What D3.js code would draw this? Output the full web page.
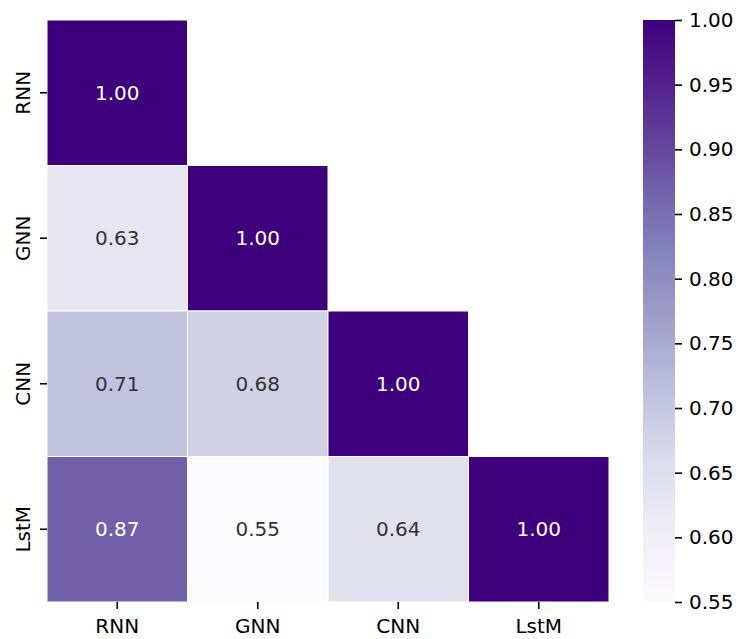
<!DOCTYPE html>
<html>
<head>
<meta charset="utf-8">
<script src="https://cdn.jsdelivr.net/npm/d3@7"></script>
<style>
body { margin: 0; background: #fff; }
text { font-family: "DejaVu Sans", sans-serif; }
</style>
</head>
<body>
<svg id="chart" width="744" height="639"></svg>
<script>
// data
var models = ["RNN", "GNN", "CNN", "LstM"];
var corr = [
  [1.00, null, null, null],
  [0.63, 1.00, null, null],
  [0.71, 0.68, 1.00, null],
  [0.87, 0.55, 0.64, 1.00]
];
var cbarTicks = [0.55, 0.60, 0.65, 0.70, 0.75, 0.80, 0.85, 0.90, 0.95, 1.00];
var vmin = 0.55, vmax = 1.00;

// matplotlib Purples
var purples = ["#fcfbfd", "#efedf5", "#dadaeb", "#bcbddc", "#9e9ac8", "#807dba", "#6a51a3", "#54278f", "#3f007d"];
var color = d3.scaleLinear()
  .domain(d3.range(purples.length).map(function(i) { return vmin + (vmax - vmin) * i / (purples.length - 1); }))
  .range(purples).clamp(true);

var svg = d3.select("#chart");
var mLeft = 47, mTop = 20, mRight = 609, mBottom = 602;

var x = d3.scaleBand().domain(models).range([mLeft, mRight]);
var y = d3.scaleBand().domain(models).range([mTop, mBottom]);

var cells = [];
corr.forEach(function(row, i) {
  row.forEach(function(v, j) {
    if (v !== null) cells.push({r: models[i], c: models[j], v: v});
  });
});

svg.selectAll("rect.cell").data(cells).enter().append("rect")
  .attr("class", "cell")
  .attr("x", function(d) { return x(d.c); })
  .attr("y", function(d) { return y(d.r); })
  .attr("width", x.bandwidth())
  .attr("height", y.bandwidth())
  .attr("fill", function(d) { return color(d.v); })
  .attr("stroke", "#fff").attr("stroke-width", 1);

function lum(c) {
  var rgb = d3.rgb(c);
  var f = function(u) { u /= 255; return u <= 0.03928 ? u / 12.92 : Math.pow((u + 0.055) / 1.055, 2.4); };
  return 0.2126 * f(rgb.r) + 0.7152 * f(rgb.g) + 0.0722 * f(rgb.b);
}

svg.selectAll("text.val").data(cells).enter().append("text")
  .attr("class", "val")
  .attr("x", function(d) { return x(d.c) + x.bandwidth() / 2; })
  .attr("y", function(d) { return y(d.r) + y.bandwidth() / 2; })
  .attr("text-anchor", "middle").attr("dy", "0.36em")
  .attr("font-size", 20)
  .attr("fill", function(d) { return lum(color(d.v)) > 0.408 ? "#333333" : "#ffffff"; })
  .text(function(d) { return d.v.toFixed(2); });

// axes
var xAxis = svg.append("g").attr("transform", "translate(0," + mBottom + ")")
  .call(d3.axisBottom(x).tickSize(7).tickPadding(7));
var yAxis = svg.append("g").attr("transform", "translate(" + mLeft + ",0)")
  .call(d3.axisLeft(y).tickSize(7).tickPadding(7));
[xAxis, yAxis].forEach(function(g) {
  g.select(".domain").remove();
  g.selectAll(".tick line").attr("stroke", "#000").attr("stroke-width", 1.6);
  g.selectAll(".tick text").attr("font-size", 20).attr("fill", "#000")
    .style("font-family", "DejaVu Sans, sans-serif");
});
xAxis.selectAll(".tick text").attr("dy", "0.85em");
yAxis.selectAll(".tick text")
  .attr("transform", "rotate(-90)")
  .attr("text-anchor", "middle")
  .attr("x", 0).attr("y", -17).attr("dy", "0");

// colorbar
var cbX = 643, cbW = 32;
var defs = svg.append("defs");
var grad = defs.append("linearGradient").attr("id", "cbgrad")
  .attr("x1", 0).attr("y1", 1).attr("x2", 0).attr("y2", 0);
d3.range(0, 1.0001, 0.05).forEach(function(t) {
  grad.append("stop").attr("offset", t).attr("stop-color", color(vmin + t * (vmax - vmin)));
});
svg.append("rect").attr("x", cbX).attr("y", mTop).attr("width", cbW).attr("height", mBottom - mTop)
  .attr("fill", "url(#cbgrad)");

var cy = d3.scaleLinear().domain([vmin, vmax]).range([mBottom, mTop]);
var cbAxis = svg.append("g").attr("transform", "translate(" + (cbX + cbW) + ",0)")
  .call(d3.axisRight(cy).tickValues(cbarTicks).tickFormat(d3.format(".2f")).tickSize(7).tickPadding(7));
cbAxis.select(".domain").remove();
cbAxis.selectAll(".tick line").attr("stroke", "#000").attr("stroke-width", 1.6);
cbAxis.selectAll(".tick text").attr("font-size", 20).attr("fill", "#000")
  .style("font-family", "DejaVu Sans, sans-serif");
</script>
</body>
</html>
